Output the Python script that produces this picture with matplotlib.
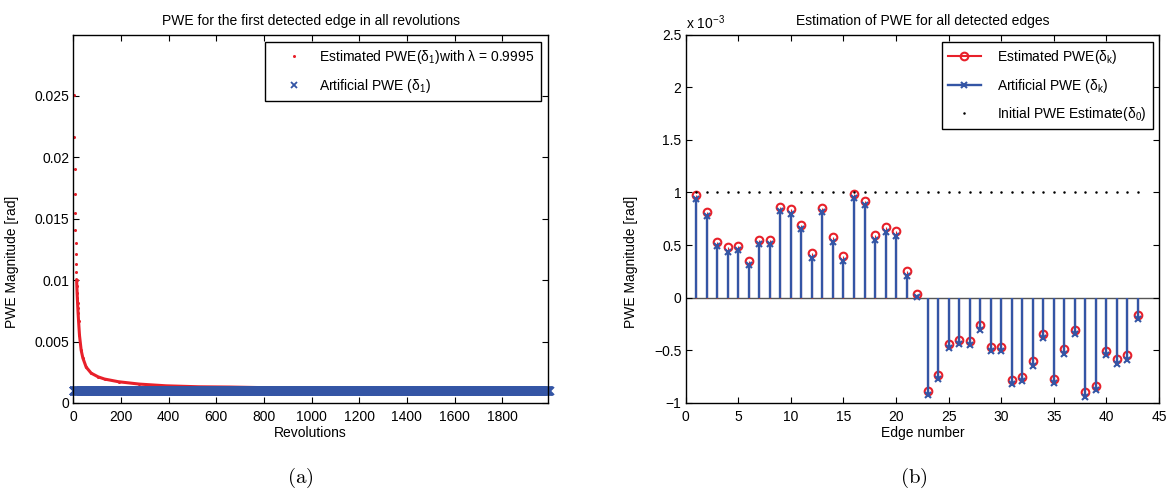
import numpy as np
import matplotlib
matplotlib.use('Agg')
import matplotlib.pyplot as plt
from matplotlib.lines import Line2D
from matplotlib.legend_handler import HandlerLine2D
from matplotlib.ticker import FuncFormatter, MultipleLocator

plt.rcParams['font.family'] = ['Liberation Sans', 'DejaVu Sans']
plt.rcParams['font.size'] = 10
plt.rcParams['mathtext.fontset'] = 'custom'
plt.rcParams['mathtext.rm'] = 'Liberation Sans'
plt.rcParams['mathtext.it'] = 'Liberation Sans:italic'
plt.rcParams['mathtext.bf'] = 'Liberation Sans:bold'

RED = '#e8202a'
BLUE = '#3455a5'

# (a) estimate of the first edge over the revolutions
rev_est = [4, 5, 6, 7, 8, 9, 10, 11, 12, 13, 14, 15, 16, 17, 18, 19, 20, 22, 26, 33,
           40, 54, 75, 104, 131, 190, 277, 389, 528, 654, 800, 1000, 1400, 1995]
pwe_est = [0.02505, 0.02168, 0.01908, 0.01703, 0.01546, 0.01411, 0.01303, 0.01211,
           0.01135, 0.01070, 0.01005, 0.00950, 0.00897, 0.00854, 0.00811, 0.00773,
           0.00735, 0.00670, 0.00550, 0.00430, 0.00367, 0.00292, 0.00243, 0.00213,
           0.00195, 0.00173, 0.00154, 0.00140, 0.00132, 0.00130, 0.00125, 0.00120,
           0.00110, 0.00100]
n_revolutions = 1999
artificial_pwe_1 = 0.00097
lam = 0.9995

# (b) estimate per edge, in units of 1e-3 rad
edge_est = [0.978, 0.816, 0.530, 0.483, 0.489, 0.352, 0.552, 0.552, 0.863, 0.838,
            0.689, 0.422, 0.854, 0.578, 0.394, 0.984, 0.921, 0.597, 0.667, 0.632,
            0.251, 0.038, -0.889, -0.733, -0.441, -0.397, -0.410, -0.263, -0.467, -0.467,
            -0.778, -0.756, -0.603, -0.340, -0.768, -0.489, -0.308, -0.895, -0.835, -0.508,
            -0.584, -0.546, -0.162]
edge_art = [0.933, 0.775, 0.489, 0.438, 0.451, 0.308, 0.508, 0.514, 0.822, 0.797,
            0.648, 0.378, 0.816, 0.533, 0.349, 0.943, 0.883, 0.552, 0.625, 0.587,
            0.206, 0.003, -0.924, -0.775, -0.479, -0.438, -0.448, -0.305, -0.508, -0.508,
            -0.819, -0.794, -0.644, -0.381, -0.813, -0.533, -0.349, -0.940, -0.876, -0.546,
            -0.625, -0.587, -0.203]
initial_est = 1.0
edges = np.arange(1, len(edge_est) + 1)


class EndMarkerHandler(HandlerLine2D):
    # stem style legend entry: line with the marker at its right end
    def get_xdata(self, legend, xdescent, ydescent, width, height, fontsize):
        return [-xdescent, -xdescent + width], [-xdescent + width]


def style_axes(ax):
    for s in ax.spines.values():
        s.set_linewidth(1.0)
        s.set_color('black')
    ax.tick_params(direction='in', top=True, right=True, length=4, width=0.8,
                   labelsize=10)
    ax.tick_params(axis='x', pad=5)
    ax.tick_params(axis='y', pad=3)


fig = plt.figure(figsize=(11.71, 4.95), dpi=100)
W, H = 1171, 495
ax1 = fig.add_axes([73.3 / W, 1 - 403 / H, 474.7 / W, 368.5 / H])
ax2 = fig.add_axes([685.7 / W, 1 - 403 / H, 473.3 / W, 368.5 / H])

# ---- (a) ----
revs = np.arange(1, n_revolutions + 1)
tail = np.array(rev_est) >= 14
ax1.plot(np.array(rev_est)[tail], np.array(pwe_est)[tail], '-', color=RED, lw=2.2,
         solid_capstyle='round')
ax1.plot(rev_est, pwe_est, 'o', color=RED, ms=2.2, mew=0)
ax1.plot(revs, np.full(n_revolutions, artificial_pwe_1), 'x', color=BLUE, ms=5.5,
         mew=1.3, clip_on=False)
ax1.set_xlim(0, 1992)
ax1.set_ylim(0, 0.03)
ax1.xaxis.set_major_locator(MultipleLocator(200))
ax1.set_xticks(np.arange(0, 1801, 200))
ax1.set_yticks(np.arange(0, 0.0251, 0.005))
ax1.yaxis.set_major_formatter(FuncFormatter(lambda v, p: '%g' % round(v, 4)))
style_axes(ax1)
ax1.set_title('PWE for the first detected edge in all revolutions', fontsize=10, pad=7)
ax1.set_xlabel('Revolutions', fontsize=10)
ax1.set_ylabel('PWE Magnitude [rad]', fontsize=10)
ax1.xaxis.set_label_coords(0.5, -0.062)
ax1.yaxis.set_label_coords(-0.114, 0.383)

h_est = Line2D([], [], ls='none', marker='o', color=RED, ms=2.2, mew=0)
h_art = Line2D([], [], ls='none', marker='x', color=BLUE, ms=5, mew=1.3)
leg1 = ax1.legend([h_est, h_art],
                  [r'Estimated PWE(δ$_\mathregular{1}$)with λ = %g' % lam,
                   r'Artificial PWE (δ$_\mathregular{1}$)'],
                  loc='upper right', bbox_to_anchor=(0.985, 0.98), borderaxespad=0,
                  numpoints=1, handlelength=3.3, handletextpad=0.2, borderpad=0.45,
                  labelspacing=0.75, fancybox=False, framealpha=1, fontsize=10)
leg1.get_frame().set_edgecolor('black')
leg1.get_frame().set_linewidth(1.0)

# ---- (b) ----
ax2.axhline(0, color='#555555', lw=1.0, zorder=1)
ax2.vlines(edges, 0, edge_est, color=RED, lw=0.8, zorder=2)
ax2.plot(edges, edge_est, 'o', mfc='none', mec=RED, ms=5.5, mew=1.5, zorder=3)
ax2.vlines(edges, 0, edge_art, color=BLUE, lw=1.7, zorder=4)
ax2.plot(edges, edge_art, 'x', color=BLUE, ms=5, mew=1.5, zorder=5)
ax2.plot(edges, np.full(len(edges), initial_est), 'o', color='black', ms=1.8, mew=0,
         zorder=6)
ax2.set_xlim(0, 45)
ax2.set_ylim(-1, 2.5)
ax2.set_xticks(np.arange(0, 46, 5))
ax2.set_yticks(np.arange(-1, 2.51, 0.5))
ax2.yaxis.set_major_formatter(FuncFormatter(lambda v, p: ('%g' % v).replace('-', '\u2212')))
style_axes(ax2)
ax2.set_title('Estimation of PWE for all detected edges', fontsize=10, pad=7)
ax2.set_xlabel('Edge number', fontsize=10)
ax2.set_ylabel('PWE Magnitude [rad]', fontsize=10)
ax2.xaxis.set_label_coords(0.5, -0.062)
ax2.yaxis.set_label_coords(-0.101, 0.383)
ax2.text(0.0, 1.008, r'x 10$^{\mathregular{-3}}$', transform=ax2.transAxes,
         ha='left', va='bottom', fontsize=10)

h_e = Line2D([], [], color=RED, lw=1.5, marker='o', mfc='none', mec=RED, ms=5.5, mew=1.5)
h_a = Line2D([], [], color=BLUE, lw=1.7, marker='x', ms=5, mew=1.5)
h_0 = Line2D([], [], ls='none', marker='o', color='black', ms=1.8, mew=0)
leg2 = ax2.legend([h_e, h_a, h_0],
                  [r'Estimated PWE(δ$_\mathregular{k}$)',
                   r'Artificial PWE (δ$_\mathregular{k}$)',
                   r'Initial PWE Estimate(δ$_\mathregular{0}$)'],
                  handler_map={h_e: EndMarkerHandler(), h_a: EndMarkerHandler()},
                  loc='upper right', bbox_to_anchor=(0.987, 0.98), borderaxespad=0,
                  numpoints=1, handlelength=2.36, handletextpad=1.15, borderpad=0.45,
                  labelspacing=0.75, fancybox=False, framealpha=1, fontsize=10)
leg2.get_frame().set_edgecolor('black')
leg2.get_frame().set_linewidth(1.0)

# sub-figure captions
fig.text(300 / W, 1 - 478 / H, r'$\mathrm{(a)}$', math_fontfamily='cm', fontsize=15,
         ha='center', va='center')
fig.text(914 / W, 1 - 478 / H, r'$\mathrm{(b)}$', math_fontfamily='cm', fontsize=15,
         ha='center', va='center')

fig.savefig('out.png', dpi=100)
